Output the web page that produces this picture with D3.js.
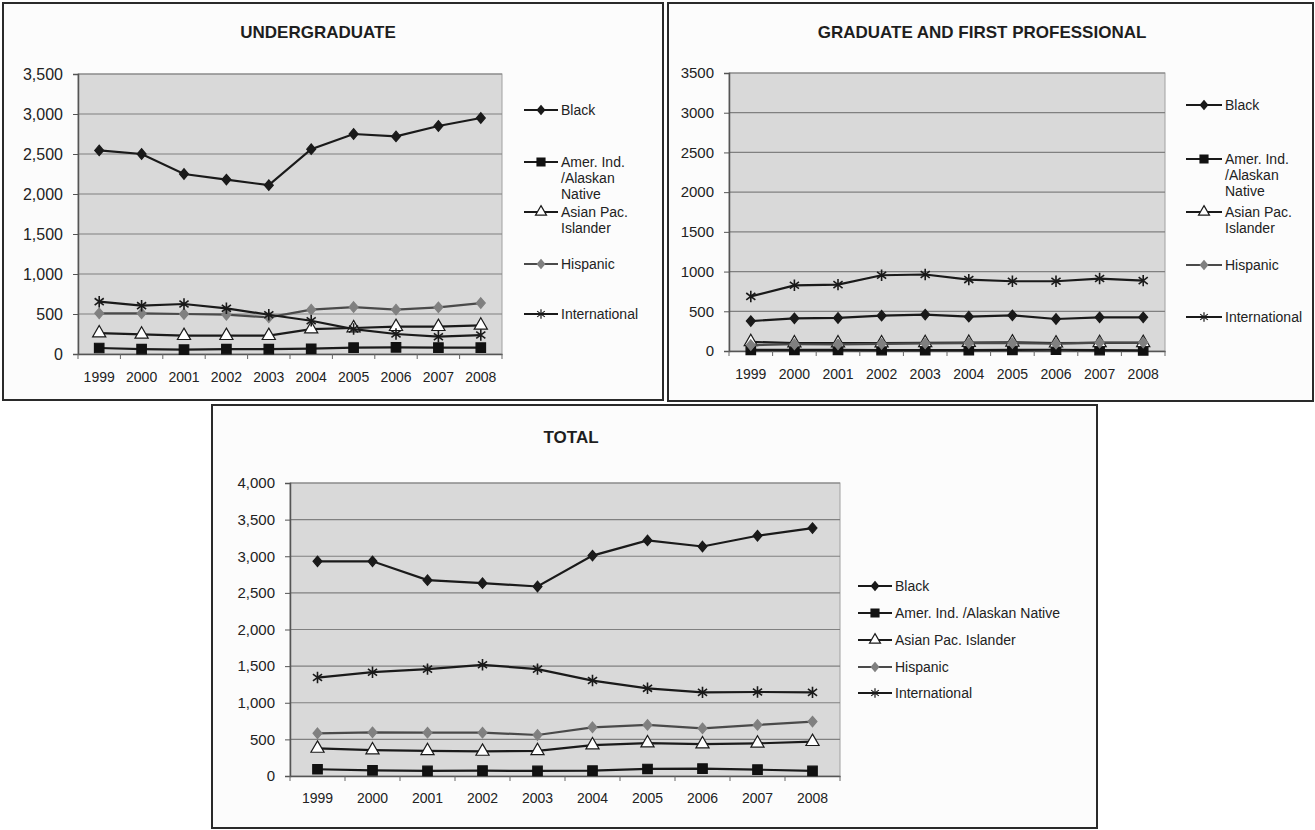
<!DOCTYPE html>
<html>
<head>
<meta charset="utf-8">
<script src="https://cdn.jsdelivr.net/npm/d3@7"></script>
<style>
  html, body { margin: 0; padding: 0; background: #ffffff; }
  svg { display: block; font-family: "Liberation Sans", Arial, sans-serif; }
</style>
</head>
<body>
<svg id="chart" width="1315" height="830"></svg>
<script>
// ---------------- DATA ----------------
const years = ["1999","2000","2001","2002","2003","2004","2005","2006","2007","2008"];
const seriesNames = ["Black", "Amer. Ind. /Alaskan Native", "Asian Pac. Islander", "Hispanic", "International"];

// Undergraduate
const ugBlack = [2545, 2500, 2250, 2180, 2110, 2560, 2750, 2720, 2850, 2950];
const ugAmer  = [75, 62, 54, 62, 62, 66, 79, 83, 79, 79];
const ugAsian = [262, 246, 229, 229, 229, 312, 325, 341, 341, 358];
const ugHisp  = [508, 508, 500, 491, 458, 554, 587, 554, 583, 637];
const ugIntl  = [654, 604, 625, 571, 491, 416, 312, 250, 216, 237];

// Graduate and first professional
const grBlack = [377, 411, 416, 445, 458, 432, 449, 403, 424, 424];
const grAmer  = [15, 15, 14, 12, 10, 10, 15, 16, 12, 8];
const grAsian = [115, 100, 100, 100, 102, 105, 110, 98, 102, 104];
const grHisp  = [75, 85, 84, 90, 95, 100, 100, 92, 105, 106];
const grIntl  = [687, 827, 836, 954, 963, 899, 878, 878, 912, 886];

// Total
const totBlack = [2931, 2931, 2674, 2633, 2587, 3009, 3216, 3133, 3280, 3385];
const totAmer  = [92, 78, 69, 73, 69, 73, 96, 101, 87, 69];
const totAsian = [376, 353, 344, 335, 344, 422, 450, 436, 445, 468];
const totHisp  = [583, 596, 592, 592, 560, 665, 697, 651, 697, 743];
const totIntl  = [1344, 1417, 1459, 1518, 1459, 1303, 1197, 1142, 1147, 1142];

const ticks3500 = [0, 500, 1000, 1500, 2000, 2500, 3000, 3500];
const ticks4000 = [0, 500, 1000, 1500, 2000, 2500, 3000, 3500, 4000];

// ---------------- DRAWING ----------------
const svg = d3.select("#chart");

const asterisk = {
  draw(ctx, size) {
    const r = Math.sqrt(size) / 2;
    const a = r * 0.8, b = r * 0.6;
    ctx.moveTo(0, -r); ctx.lineTo(0, r);
    ctx.moveTo(-a, -b); ctx.lineTo(a, b);
    ctx.moveTo(-a, b); ctx.lineTo(a, -b);
  }
};
const diamond = {
  draw(ctx, size) {
    const h = Math.sqrt(size) / 2, w = h * 0.85;
    ctx.moveTo(0, -h); ctx.lineTo(w, 0); ctx.lineTo(0, h); ctx.lineTo(-w, 0); ctx.closePath();
  }
};

const styles = [
  { type: diamond,          size: 110, fill: "#1a1a1a", stroke: "#1a1a1a", line: "#1a1a1a" },
  { type: d3.symbolSquare,  size: 90,  fill: "#111111", stroke: "#111111", line: "#1a1a1a" },
  { type: d3.symbolTriangle,size: 75,  fill: "#ffffff", stroke: "#1a1a1a", line: "#1a1a1a" },
  { type: diamond,          size: 110, fill: "#808080", stroke: "#808080", line: "#4a4a4a" },
  { type: asterisk,         size: 130, fill: "none",    stroke: "#1a1a1a", line: "#1a1a1a" }
];

function panel(cfg) {
  const g = svg.append("g");
  // panel frame
  g.append("rect")
    .attr("x", cfg.box[0]).attr("y", cfg.box[1])
    .attr("width", cfg.box[2] - cfg.box[0]).attr("height", cfg.box[3] - cfg.box[1])
    .attr("fill", "#fcfcfc").attr("stroke", "#2a2a2a").attr("stroke-width", 2);

  // title
  g.append("text")
    .attr("x", cfg.titleX).attr("y", cfg.titleY)
    .attr("text-anchor", "middle").attr("dominant-baseline", "central")
    .attr("font-size", 17).attr("font-weight", "bold").attr("fill", "#1e1e1e")
    .text(cfg.title);

  const x = d3.scaleBand().domain(years).range([cfg.plot[0], cfg.plot[2]]);
  const y = d3.scaleLinear().domain([0, d3.max(cfg.ticks)]).range([cfg.plot[3], cfg.plot[1]]);
  const cx = d => x(d) + x.bandwidth() / 2;

  // plot background
  g.append("rect")
    .attr("x", cfg.plot[0]).attr("y", cfg.plot[1])
    .attr("width", cfg.plot[2] - cfg.plot[0]).attr("height", cfg.plot[3] - cfg.plot[1])
    .attr("fill", "#d9d9d9").attr("stroke", "#a0a0a0").attr("stroke-width", 1);

  // gridlines
  g.append("g").selectAll("line").data(cfg.ticks.filter(t => t > 0)).join("line")
    .attr("x1", cfg.plot[0]).attr("x2", cfg.plot[2])
    .attr("y1", d => y(d)).attr("y2", d => y(d))
    .attr("stroke", "#808080").attr("stroke-width", 1.2);

  // y axis
  const yAxis = d3.axisLeft(y).tickValues(cfg.ticks).tickFormat(cfg.fmt).tickSize(5).tickPadding(10);
  const ya = g.append("g").attr("transform", `translate(${cfg.plot[0]},0)`).call(yAxis);
  ya.select(".domain").attr("stroke", "#555").attr("stroke-width", 1.5);
  ya.selectAll(".tick line").attr("stroke", "#555");
  ya.selectAll(".tick text").attr("font-size", cfg.yFont).attr("fill", "#222")
    .attr("font-family", "Liberation Sans, Arial, sans-serif");

  // x axis
  const xAxis = d3.axisBottom(x).tickSize(0).tickPadding(cfg.xPad);
  const xa = g.append("g").attr("transform", `translate(0,${cfg.plot[3]})`).call(xAxis);
  xa.select(".domain").attr("stroke", "#555").attr("stroke-width", 1.5);
  xa.selectAll(".tick text").attr("font-size", 14).attr("fill", "#222")
    .attr("font-family", "Liberation Sans, Arial, sans-serif");
  // category boundary ticks
  g.append("g").selectAll("line").data(d3.range(years.length + 1)).join("line")
    .attr("x1", i => cfg.plot[0] + i * x.bandwidth()).attr("x2", i => cfg.plot[0] + i * x.bandwidth())
    .attr("y1", cfg.plot[3]).attr("y2", cfg.plot[3] + 5)
    .attr("stroke", "#666").attr("stroke-width", 1);

  // series
  const line = d3.line().x((d, i) => cx(years[i])).y(d => y(d));
  cfg.series.forEach((vals, si) => {
    const st = styles[si];
    g.append("path").datum(vals).attr("d", line)
      .attr("fill", "none").attr("stroke", st.line).attr("stroke-width", 2.2);
    g.append("g").selectAll("path").data(vals).join("path")
      .attr("transform", (d, i) => `translate(${cx(years[i])},${y(d)})`)
      .attr("d", d3.symbol().type(st.type).size(st.size))
      .attr("fill", st.fill).attr("stroke", st.stroke)
      .attr("stroke-width", si === 4 ? 1.6 : 1.2);
  });

  // legend
  const lg = g.append("g");
  cfg.legend.forEach((item, si) => {
    const st = styles[si];
    lg.append("line")
      .attr("x1", cfg.legX[0]).attr("x2", cfg.legX[1])
      .attr("y1", item.y).attr("y2", item.y)
      .attr("stroke", st.line).attr("stroke-width", 2);
    lg.append("path")
      .attr("transform", `translate(${(cfg.legX[0] + cfg.legX[1]) / 2},${item.y})`)
      .attr("d", d3.symbol().type(st.type).size(st.size * 0.7))
      .attr("fill", st.fill).attr("stroke", st.stroke).attr("stroke-width", 1.2);
    const t = lg.append("text")
      .attr("x", cfg.legX[1] + 3).attr("y", item.y)
      .attr("font-size", 14).attr("fill", "#222");
    item.lines.forEach((ln, k) => {
      t.append("tspan").attr("x", cfg.legX[1] + 3).attr("y", item.y + k * cfg.legLine)
        .attr("dominant-baseline", "central").text(ln);
    });
  });
}

const fmtComma = d3.format(",");
const fmtPlain = d3.format("d");

const legendWrapped = [
  ["Black"],
  ["Amer. Ind.", "/Alaskan", "Native"],
  ["Asian Pac.", "Islander"],
  ["Hispanic"],
  ["International"]
];

panel({
  title: "UNDERGRADUATE", titleX: 318, titleY: 32,
  box: [3, 3, 663, 400],
  plot: [78, 74, 502, 354],
  ticks: ticks3500, fmt: fmtComma, yFont: 16, xPad: 18,
  series: [ugBlack, ugAmer, ugAsian, ugHisp, ugIntl],
  legX: [524, 558], legLine: 16,
  legend: [110, 162, 212, 264, 314].map((yy, i) => ({ y: yy, lines: legendWrapped[i] }))
});

panel({
  title: "GRADUATE AND FIRST PROFESSIONAL", titleX: 982, titleY: 32,
  box: [668, 3, 1313, 401],
  plot: [729, 73, 1165, 351],
  ticks: ticks3500, fmt: fmtPlain, yFont: 15, xPad: 18,
  series: [grBlack, grAmer, grAsian, grHisp, grIntl],
  legX: [1186, 1222], legLine: 16,
  legend: [105, 159, 212, 265, 317].map((yy, i) => ({ y: yy, lines: legendWrapped[i] }))
});

panel({
  title: "TOTAL", titleX: 571, titleY: 437,
  box: [212, 405, 1097, 828],
  plot: [290, 483, 840, 776],
  ticks: ticks4000, fmt: fmtComma, yFont: 15, xPad: 17,
  series: [totBlack, totAmer, totAsian, totHisp, totIntl],
  legX: [858, 892], legLine: 16,
  legend: [586, 613, 640, 667, 693].map((yy, i) => ({ y: yy, lines: [seriesNames[i]] }))
});
</script>
</body>
</html>
